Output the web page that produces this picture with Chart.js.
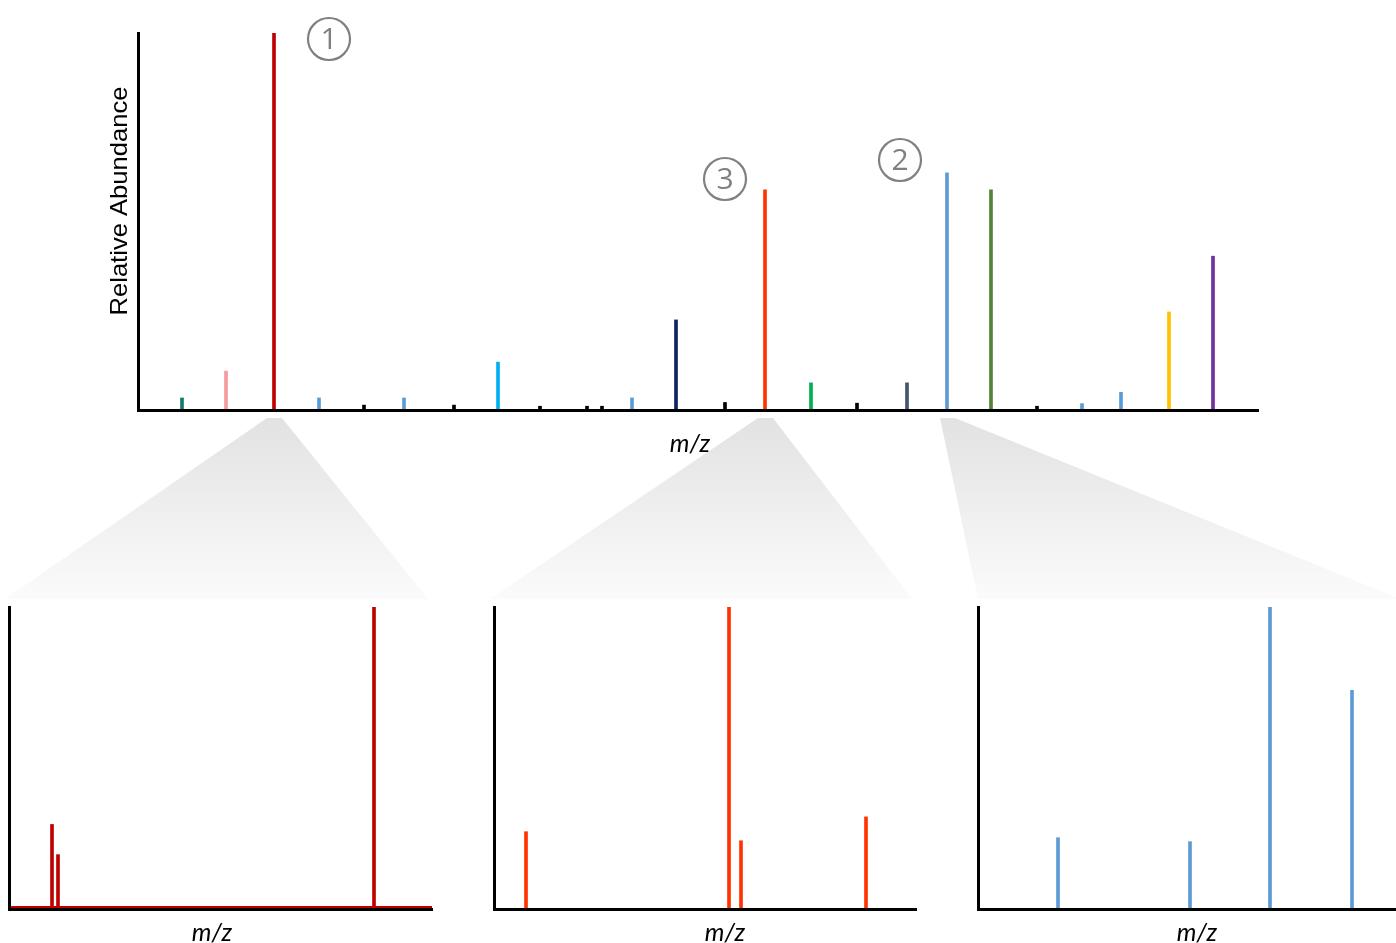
<!DOCTYPE html>
<html>
<head>
<meta charset="utf-8">
<script src="https://cdn.jsdelivr.net/npm/chart.js@4.4.1/dist/chart.umd.min.js"></script>
<style>
  html, body { margin: 0; padding: 0; background: #fff; }
  #wrap { position: relative; width: 1396px; height: 943px; overflow: hidden; }
  #wrap canvas { position: absolute; }
</style>
</head>
<body>
<div id="wrap">
  <canvas id="main" width="1396" height="943" style="left:0;top:0"></canvas>
  <canvas id="zoom1" width="440" height="353" style="left:0;top:590px"></canvas>
  <canvas id="zoom2" width="440" height="353" style="left:480px;top:590px"></canvas>
  <canvas id="zoom3" width="436" height="353" style="left:960px;top:590px"></canvas>
</div>
<script>
// full spectrum (m/z, relative abundance %)
const mainMz = [144, 188, 236, 281, 326, 366, 416, 460, 502, 549, 564, 594, 638,
                687, 727, 773, 819, 869, 909, 953, 999, 1044, 1083, 1131, 1175];
const mainAbundance = [3.2, 10.3, 100, 3.2, 1.3, 3.2, 1.3, 12.7, 1.0, 1.0, 1.0, 3.2, 23.9,
                       2.0, 58.4, 7.2, 1.8, 7.2, 62.9, 58.4, 1.0, 1.7, 4.7, 26.0, 40.8];
const mainColors = ['#137a6f', '#f79a9b', '#c00000', '#5b9bd5', '#000000', '#5b9bd5', '#000000',
                    '#00b0f0', '#000000', '#000000', '#000000', '#5b9bd5', '#0f2260',
                    '#000000', '#ff3300', '#00b050', '#000000', '#44546a', '#5b9bd5',
                    '#548235', '#000000', '#5b9bd5', '#5b9bd5', '#ffc000', '#7030a0'];

// peaks that get zoomed (labels 1, 3, 2)
const zoomTargets = [236, 727, 909];
const zoomLabels = ['1', '3', '2'];

// zoomed regions
const zoom1Mz = [234.43, 234.49, 235.07, 237.65];
const zoom1Abundance = [28.0, 18.0, 0.7, 100];
const zoom1Range = [234.0, 238.23];
const zoom1Baseline = 0.7;

const zoom2Mz = [725.32, 727.35, 727.47, 728.72];
const zoom2Abundance = [25.6, 100, 22.6, 30.5];
const zoom2Range = [725.0, 729.22];

const zoom3Mz = [907.80, 909.12, 909.92, 910.74];
const zoom3Abundance = [23.6, 22.3, 100, 72.4];
const zoom3Range = [907.0, 911.18];

const axisX = {
  type: 'linear', offset: false,
  grid: { display: false, drawTicks: false },
  ticks: { display: false },
  border: { color: '#000', width: 3, z: 1 }
};
const axisY = {
  min: 0, max: 100,
  grid: { display: false, drawTicks: false },
  ticks: { display: false },
  border: { color: '#000', width: 3, z: 1 }
};

function points(xs, ys) {
  return xs.map((x, i) => ({ x: x, y: ys[i] }));
}

function makeInset(id, mz, abundance, range, color, padding, baseline) {
  const datasets = [{
    data: points(mz, abundance),
    backgroundColor: color,
    barThickness: 3,
    borderWidth: 0
  }];
  if (baseline !== undefined) {
    datasets.push({
      type: 'line',
      data: [{ x: range[0], y: baseline }, { x: range[1], y: baseline }],
      borderColor: color,
      borderWidth: 2,
      pointRadius: 0
    });
  }
  return new Chart(document.getElementById(id), {
    type: 'bar',
    data: { datasets: datasets },
    options: {
      responsive: false,
      animation: false,
      layout: { padding: padding },
      plugins: { legend: { display: false }, tooltip: { enabled: false } },
      scales: {
        x: Object.assign({}, axisX, { min: range[0], max: range[1] }),
        y: axisY
      }
    }
  });
}

const insets = [
  makeInset('zoom1', zoom1Mz, zoom1Abundance, zoom1Range, '#c00000',
            { left: 9, top: 17, right: 8, bottom: 34 }, zoom1Baseline),
  makeInset('zoom2', zoom2Mz, zoom2Abundance, zoom2Range, '#ff3300',
            { left: 14, top: 17, right: 4, bottom: 34 }),
  makeInset('zoom3', zoom3Mz, zoom3Abundance, zoom3Range, '#5b9bd5',
            { left: 18, top: 17, right: 0, bottom: 34 })
];
// where each inset canvas sits on the page
const insetOffsets = [[0, 590], [480, 590], [960, 590]];
// page x of the "m/z" under each inset
const insetTitleX = [212, 725, 1197];

const decor = {
  id: 'decor',
  beforeDraw(chart) {
    const ctx = chart.ctx;
    const xs = chart.scales.x;
    const topY = chart.chartArea.bottom + 8;
    const botY = 599;
    ctx.save();
    zoomTargets.forEach((mz, i) => {
      const px = xs.getPixelForValue(mz);
      const ia = insets[i].chartArea;
      const off = insetOffsets[i];
      let bl = off[0] + ia.left - 4, br = off[0] + ia.right - 4;
      if (i === 2) { bl = off[0] + ia.left; br = 1400; }
      const g = ctx.createLinearGradient(0, topY, 0, botY);
      g.addColorStop(0, '#e2e2e2');
      g.addColorStop(1, '#fbfbfb');
      ctx.fillStyle = g;
      ctx.beginPath();
      ctx.moveTo(px - 7, topY);
      ctx.lineTo(px + 8, topY);
      ctx.lineTo(br, botY);
      ctx.lineTo(bl, botY);
      ctx.closePath();
      ctx.fill();
    });
    ctx.restore();
  },
  afterDraw(chart) {
    const ctx = chart.ctx;
    const area = chart.chartArea;
    ctx.save();
    // y axis title
    ctx.fillStyle = '#000';
    ctx.font = '24px "Liberation Sans", Arial, sans-serif';
    ctx.textAlign = 'center';
    ctx.textBaseline = 'middle';
    const label = 'Relative Abundance';
    const w = ctx.measureText(label).width;
    ctx.translate(120, 201);
    ctx.rotate(-Math.PI / 2);
    ctx.scale(229 / w, 1);
    ctx.fillText(label, 0, 0);
    ctx.restore();

    // m/z titles
    ctx.save();
    ctx.fillStyle = '#000';
    ctx.font = 'italic 25px Lato, "Open Sans", sans-serif';
    ctx.textAlign = 'center';
    ctx.textBaseline = 'middle';
    ctx.fillText('m/z', 690, area.bottom + 34);
    insetTitleX.forEach((x, i) => {
      const ia = insets[i].chartArea;
      ctx.fillText('m/z', x, insetOffsets[i][1] + ia.bottom + 24);
    });
    ctx.restore();

    // circled peak numbers
    const circles = [[329, 39], [725, 179], [900, 160]];
    ctx.save();
    ctx.strokeStyle = '#808080';
    ctx.fillStyle = '#808080';
    ctx.lineWidth = 2.2;
    ctx.font = '30px "Open Sans", Lato, sans-serif';
    ctx.textAlign = 'center';
    ctx.textBaseline = 'middle';
    circles.forEach((c, i) => {
      ctx.beginPath();
      ctx.arc(c[0], c[1], 21, 0, Math.PI * 2);
      ctx.stroke();
      ctx.fillText(zoomLabels[i], c[0], c[1] + 1);
    });
    ctx.restore();
  }
};

new Chart(document.getElementById('main'), {
  type: 'bar',
  data: {
    datasets: [{
      data: points(mainMz, mainAbundance),
      backgroundColor: mainColors,
      barThickness: 3,
      borderWidth: 0
    }]
  },
  options: {
    responsive: false,
    animation: false,
    layout: { padding: { left: 138, top: 33, right: 138, bottom: 533 } },
    plugins: { legend: { display: false }, tooltip: { enabled: false } },
    scales: {
      x: Object.assign({}, axisX, { min: 100, max: 1220 }),
      y: axisY
    }
  },
  plugins: [decor]
});
</script>
</body>
</html>
